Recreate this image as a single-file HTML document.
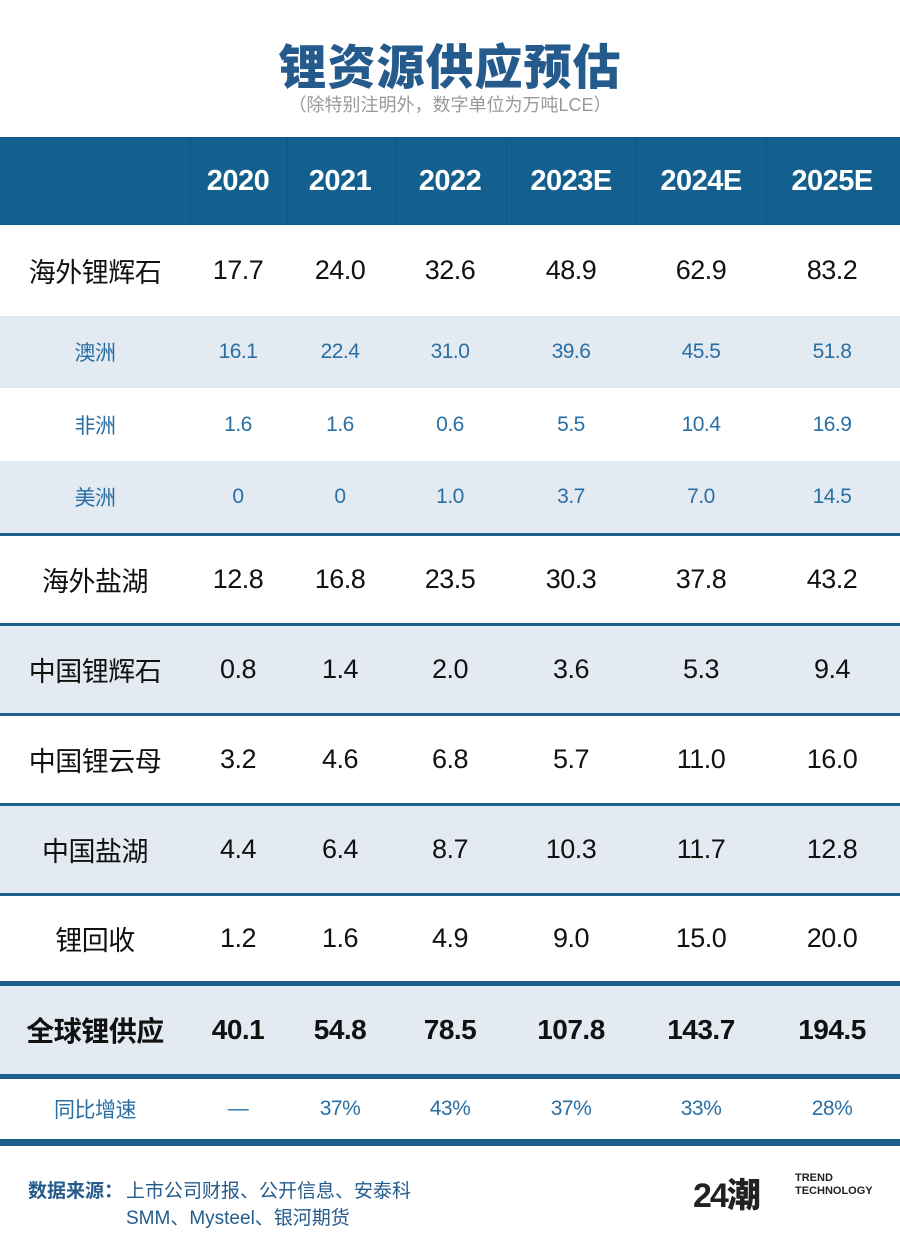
<!DOCTYPE html>
<html><head><meta charset="utf-8"><style>
body{margin:0;width:900px;height:1245px;background:#fff;position:relative;overflow:hidden;font-family:"Liberation Sans","Noto Sans CJK SC",sans-serif;}
.a{position:absolute;}
.t{position:absolute;left:0;width:900px;text-align:center;}
.row{position:absolute;left:0;width:900px;}
.c{position:absolute;top:0;height:100%;display:flex;align-items:center;justify-content:center;transform:translateX(-50%);white-space:nowrap;letter-spacing:-0.5px;}
.line{position:absolute;left:0;width:900px;background:#1f5f8e;}
</style></head><body>
<div class="t" style="top:28px;font-size:48px;font-weight:900;color:#245b8c;letter-spacing:1px;">锂资源供应预估</div>
<div class="t" style="top:91px;font-size:18px;color:#999;">（除特别注明外，数字单位为万吨LCE）</div>

<div class="row" style="top:137px;height:88px;background:#13608f;"></div>
<div class="a" style="top:137px;left:190px;width:1px;height:88px;background:#0f5682"></div>
<div class="a" style="top:137px;left:287px;width:1px;height:88px;background:#0f5682"></div>
<div class="a" style="top:137px;left:395px;width:1px;height:88px;background:#0f5682"></div>
<div class="a" style="top:137px;left:506px;width:1px;height:88px;background:#0f5682"></div>
<div class="a" style="top:137px;left:636px;width:1px;height:88px;background:#0f5682"></div>
<div class="a" style="top:137px;left:766px;width:1px;height:88px;background:#0f5682"></div>
<div class="row" style="top:137px;height:88px;color:#fff;font-size:29px;font-weight:bold;">
<div class="c" style="left:238px">2020</div><div class="c" style="left:340px">2021</div><div class="c" style="left:450px">2022</div><div class="c" style="left:571px">2023E</div><div class="c" style="left:701px">2024E</div><div class="c" style="left:832px">2025E</div></div>

<div class="row" style="top:316px;height:72px;background:#e3eaf2"></div>
<div class="row" style="top:461px;height:72px;background:#e3eaf2"></div>
<div class="row" style="top:624px;height:90px;background:#e3eaf2"></div>
<div class="row" style="top:804px;height:90px;background:#e3eaf2"></div>
<div class="row" style="top:983px;height:93px;background:#e3eaf2"></div>

<div class="line" style="top:533px;height:3px"></div>
<div class="line" style="top:623px;height:3px"></div>
<div class="line" style="top:713px;height:3px"></div>
<div class="line" style="top:803px;height:3px"></div>
<div class="line" style="top:893px;height:3px"></div>
<div class="line" style="top:981px;height:5px"></div>
<div class="line" style="top:1074px;height:5px"></div>
<div class="line" style="top:1139px;height:7px"></div>

<div class="row" style="top:225px;height:91px;font-size:27px;color:#111;">
<div class="c" style="left:95px">海外锂辉石</div><div class="c" style="left:238px">17.7</div><div class="c" style="left:340px">24.0</div><div class="c" style="left:450px">32.6</div><div class="c" style="left:571px">48.9</div><div class="c" style="left:701px">62.9</div><div class="c" style="left:832px">83.2</div></div>
<div class="row" style="top:316px;height:72px;font-size:21px;color:#2a6fa3;">
<div class="c" style="left:95px">澳洲</div><div class="c" style="left:238px">16.1</div><div class="c" style="left:340px">22.4</div><div class="c" style="left:450px">31.0</div><div class="c" style="left:571px">39.6</div><div class="c" style="left:701px">45.5</div><div class="c" style="left:832px">51.8</div></div>
<div class="row" style="top:388px;height:73px;font-size:21px;color:#2a6fa3;">
<div class="c" style="left:95px">非洲</div><div class="c" style="left:238px">1.6</div><div class="c" style="left:340px">1.6</div><div class="c" style="left:450px">0.6</div><div class="c" style="left:571px">5.5</div><div class="c" style="left:701px">10.4</div><div class="c" style="left:832px">16.9</div></div>
<div class="row" style="top:461px;height:72px;font-size:21px;color:#2a6fa3;">
<div class="c" style="left:95px">美洲</div><div class="c" style="left:238px">0</div><div class="c" style="left:340px">0</div><div class="c" style="left:450px">1.0</div><div class="c" style="left:571px">3.7</div><div class="c" style="left:701px">7.0</div><div class="c" style="left:832px">14.5</div></div>
<div class="row" style="top:535px;height:89px;font-size:27px;color:#111;">
<div class="c" style="left:95px">海外盐湖</div><div class="c" style="left:238px">12.8</div><div class="c" style="left:340px">16.8</div><div class="c" style="left:450px">23.5</div><div class="c" style="left:571px">30.3</div><div class="c" style="left:701px">37.8</div><div class="c" style="left:832px">43.2</div></div>
<div class="row" style="top:625px;height:89px;font-size:27px;color:#111;">
<div class="c" style="left:95px">中国锂辉石</div><div class="c" style="left:238px">0.8</div><div class="c" style="left:340px">1.4</div><div class="c" style="left:450px">2.0</div><div class="c" style="left:571px">3.6</div><div class="c" style="left:701px">5.3</div><div class="c" style="left:832px">9.4</div></div>
<div class="row" style="top:715px;height:89px;font-size:27px;color:#111;">
<div class="c" style="left:95px">中国锂云母</div><div class="c" style="left:238px">3.2</div><div class="c" style="left:340px">4.6</div><div class="c" style="left:450px">6.8</div><div class="c" style="left:571px">5.7</div><div class="c" style="left:701px">11.0</div><div class="c" style="left:832px">16.0</div></div>
<div class="row" style="top:805px;height:89px;font-size:27px;color:#111;">
<div class="c" style="left:95px">中国盐湖</div><div class="c" style="left:238px">4.4</div><div class="c" style="left:340px">6.4</div><div class="c" style="left:450px">8.7</div><div class="c" style="left:571px">10.3</div><div class="c" style="left:701px">11.7</div><div class="c" style="left:832px">12.8</div></div>
<div class="row" style="top:895px;height:87px;font-size:27px;color:#111;">
<div class="c" style="left:95px">锂回收</div><div class="c" style="left:238px">1.2</div><div class="c" style="left:340px">1.6</div><div class="c" style="left:450px">4.9</div><div class="c" style="left:571px">9.0</div><div class="c" style="left:701px">15.0</div><div class="c" style="left:832px">20.0</div></div>
<div class="row" style="top:986px;height:88px;font-size:28px;font-weight:bold;color:#111;">
<div class="c" style="left:95px">全球锂供应</div><div class="c" style="left:238px">40.1</div><div class="c" style="left:340px">54.8</div><div class="c" style="left:450px">78.5</div><div class="c" style="left:571px">107.8</div><div class="c" style="left:701px">143.7</div><div class="c" style="left:832px">194.5</div></div>
<div class="row" style="top:1079px;height:60px;font-size:21px;color:#2a6fa3;">
<div class="c" style="left:95px">同比增速</div><div class="c" style="left:238px">—</div><div class="c" style="left:340px">37%</div><div class="c" style="left:450px">43%</div><div class="c" style="left:571px">37%</div><div class="c" style="left:701px">33%</div><div class="c" style="left:832px">28%</div></div>

<div class="a" style="top:1176px;left:28px;font-size:19px;color:#245b8c;font-weight:bold;">数据来源：</div>
<div class="a" style="top:1176px;left:126px;font-size:19px;color:#245b8c;">上市公司财报、公开信息、安泰科</div>
<div class="a" style="top:1203px;left:126px;font-size:19px;color:#245b8c;">SMM、Mysteel、银河期货</div>
<div class="a" style="top:1168px;left:693px;font-size:34px;font-weight:900;color:#222;letter-spacing:-2px;">24潮</div>
<div class="a" style="top:1172px;left:795px;font-size:11px;font-weight:bold;color:#222;line-height:13px;">TREND<br>TECHNOLOGY</div>
</body></html>
